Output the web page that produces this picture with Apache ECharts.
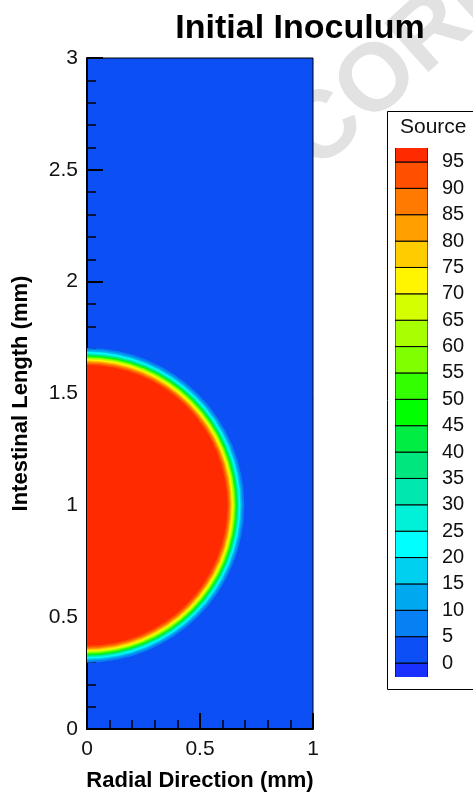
<!DOCTYPE html>
<html><head><meta charset="utf-8">
<script src="https://cdn.jsdelivr.net/npm/echarts@6/dist/echarts.min.js"></script>
<style>html,body{margin:0;padding:0;background:#fff}#c{width:473px;height:797px}</style>
</head><body><div id="c"></div>
<script>
// Contour levels of "Source" and the radius (mm) at which each level is reached,
// measured from the inoculum centre on the axis.
const levels = [5,10,15,20,25,30,35,40,45,50,55,60,65,70,75,80,85,90,95];
const levelRadii = [0.696,0.688,0.682,0.678,0.674,0.670,0.667,0.664,0.661,0.658,0.655,0.652,0.648,0.645,0.641,0.637,0.633,0.628,0.621];
const inoculumCenter = [0, 1.0];
// colour bands of the legend: band i spans bandEdges[i]..bandEdges[i+1]
const bandEdges = [-5,0,5,10,15,20,25,30,35,40,45,50,55,60,65,70,75,80,85,90,95,105];
const bandColors = ['#1a30ff','#0c50f5','#0680f2','#00a8f0','#00d0f0','#00ffff','#00f0d8','#00e8b0','#00e67f','#00ee44','#00ff00','#33ff00','#80ff00','#a8ff00','#d4ff00','#fff500','#ffcc00','#ffa000','#ff7a00','#ff5000','#ff2a00'];
const legendLabels = [0,5,10,15,20,25,30,35,40,45,50,55,60,65,70,75,80,85,90,95];
const xRange = [0, 1];
const yRange = [0, 3];

const FONT = 'Liberation Sans, Arial, Helvetica, sans-serif';
const colorFor = v => bandColors[bandEdges.indexOf(v)];

const chart = echarts.init(document.getElementById('c'), null, {renderer: 'canvas'});

const fieldData = levels.map((L, i) => [inoculumCenter[0], inoculumCenter[1], levelRadii[i], L]);
const bandData = bandColors.map((c, i) => [bandEdges[i], bandEdges[i + 1], i]);

const axisCommon = {
  axisLine: {show: true, lineStyle: {color: '#000', width: 2}},
  axisTick: {show: true, inside: true, length: 16, lineStyle: {color: '#000', width: 2}},
  minorTick: {show: true, splitNumber: 5, length: 9, lineStyle: {color: '#000', width: 1.5}},
  splitLine: {show: false},
  minorSplitLine: {show: false},
  nameTextStyle: {fontFamily: FONT, fontWeight: 'bold', fontSize: 22, color: '#000'}
};

chart.setOption({
  animation: false,
  backgroundColor: '#fff',
  title: {
    text: 'Initial Inoculum', left: 295, top: 7, textAlign: 'center',
    textStyle: {fontFamily: FONT, fontWeight: 'bold', fontSize: 34, color: '#000'}
  },
  grid: [
    {left: 87, top: 58, width: 226, height: 676, show: true, backgroundColor: colorFor(0), borderColor: '#000', borderWidth: 1},
    {left: 395, top: 148, width: 33, height: 529, show: false}
  ],
  xAxis: [
    Object.assign({}, axisCommon, {
      gridIndex: 0, type: 'value', min: xRange[0], max: xRange[1], interval: 0.5,
      name: 'Radial Direction (mm)', nameLocation: 'middle', nameGap: 41,
      axisLabel: {fontFamily: FONT, fontSize: 21, color: '#111', margin: 10}
    }),
    {gridIndex: 1, type: 'value', min: 0, max: 1, show: false}
  ],
  yAxis: [
    Object.assign({}, axisCommon, {
      gridIndex: 0, type: 'value', min: yRange[0], max: yRange[1], interval: 0.5,
      name: 'Intestinal Length (mm)', nameLocation: 'middle', nameGap: 55,
      axisLabel: {fontFamily: FONT, fontSize: 21, color: '#111', margin: 9}
    }),
    {
      gridIndex: 1, type: 'value', min: -2.65, max: 97.65, position: 'right',
      axisLine: {show: false}, axisTick: {show: false}, splitLine: {show: false},
      axisLabel: {customValues: legendLabels, margin: 14, fontFamily: FONT, fontSize: 20, color: '#111', align: 'left'}
    }
  ],
  graphic: {
    elements: [
      {type: 'text', z: -10, x: 299, y: 153, rotation: 42 * Math.PI / 180,
       style: {text: 'CORRECTED PROOF', font: 'bold 96px ' + FONT, fill: '#e2e2e2', textAlign: 'left', textVerticalAlign: 'middle'}},
      {type: 'rect', z: -5, shape: {x: 387.5, y: 111.5, width: 120, height: 578}, style: {fill: '#fff', stroke: '#000', lineWidth: 1}},
      {type: 'text', z: 5, x: 400, y: 127, style: {text: 'Source', font: '21px ' + FONT, fill: '#111', textVerticalAlign: 'middle'}}
    ]
  },
  series: [
    {
      type: 'custom', xAxisIndex: 0, yAxisIndex: 0, clip: true,
      encode: {x: 0, y: 1},
      data: fieldData,
      renderItem: (params, api) => {
        const c = api.coord([api.value(0), api.value(1)]);
        const r = api.size([api.value(2), 0])[0];
        return {type: 'circle', shape: {cx: c[0], cy: c[1], r: r}, style: {fill: colorFor(api.value(3))}};
      }
    },
    {
      type: 'custom', xAxisIndex: 1, yAxisIndex: 1, clip: true,
      encode: {y: [0, 1]},
      data: bandData,
      renderItem: (params, api) => {
        const p1 = api.coord([0, api.value(1)]);
        const p2 = api.coord([1, api.value(0)]);
        return {type: 'rect', shape: {x: p1[0], y: p1[1], width: p2[0] - p1[0], height: p2[1] - p1[1]},
                style: {fill: bandColors[api.value(2)], stroke: '#000', lineWidth: 1}};
      }
    }
  ]
});
</script></body></html>
